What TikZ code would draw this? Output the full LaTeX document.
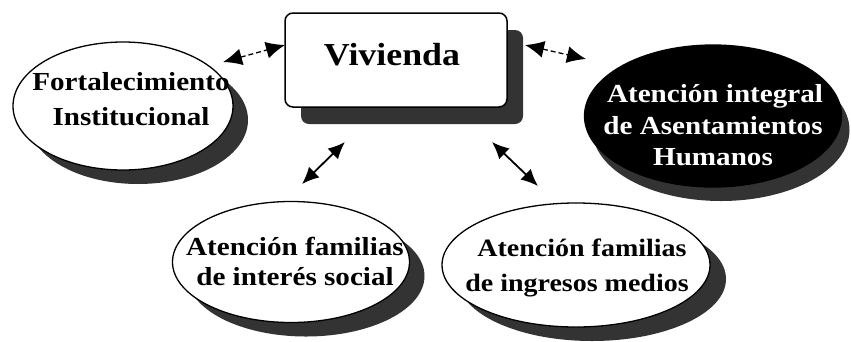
\documentclass[tikz,border=0pt]{standalone}
\usepackage{fontspec}
\setmainfont{Liberation Serif}
\newfontfamily\dfont[FakeStretch=1.12]{Liberation Serif}
\usetikzlibrary{shapes.geometric,shadows,arrows.meta}
\tikzset{
  ellbox/.style={ellipse, draw=black, line width=1.3pt, fill=white, inner sep=0pt},
  shad/.style={drop shadow={shadow xshift=#1, shadow yshift=-14pt, fill=black!80, opacity=1}},
  mainbox/.style={rectangle, rounded corners=8pt, draw=black, line width=1.5pt, fill=white,
    drop shadow={shadow xshift=16pt, shadow yshift=-17pt, fill=black!80, opacity=1}},
  lbl/.style={anchor=base, inner sep=0pt, font=\dfont\bfseries\fontsize{26}{30}\selectfont},
  bigtip/.tip={Latex[length=19pt,width=17pt]},
  smalltip/.tip={Latex[length=17pt,width=15pt]},
  dlink/.style={bigtip-bigtip, line width=1.3pt, dash pattern=on 5pt off 3pt},
  slink/.style={smalltip-smalltip, line width=1.8pt}
}
\begin{document}
\begin{tikzpicture}[x=1pt,y=-1pt]
\useasboundingbox (0,0) rectangle (851,341);
% central box
\node[mainbox, minimum width=222pt, minimum height=94pt] (viv) at (396,60) {};
\node[lbl, font=\dfont\bfseries\fontsize{32}{36}\selectfont] (vivt) at (392,65) {Vivienda};
% ellipses
\node[ellbox, shad=15pt, minimum width=220pt, minimum height=128pt] (fort) at (123,106) {};
\node[lbl] (fort1) at (131,90) {Fortalecimiento};
\node[lbl] (fort2) at (131,125) {Institucional};
\node[ellbox, shad=8pt, fill=black, minimum width=257pt, minimum height=142pt] (aih) at (713,116) {};
\node[lbl, text=white] (aih1) at (715,102) {Atención integral};
\node[lbl, text=white] (aih2) at (713,134) {de Asentamientos};
\node[lbl, text=white] (aih3) at (713,165) {Humanos};
\node[ellbox, shad=15pt, minimum width=237pt, minimum height=121pt] (ais) at (291,262) {};
\node[lbl] (ais1) at (295,255) {Atención familias};
\node[lbl] (ais2) at (295,285) {de interés social};
\node[ellbox, shad=16pt, minimum width=268pt, minimum height=124pt] (aim) at (576,265) {};
\node[lbl, font=\dfont\bfseries\fontsize{25}{30}\selectfont] (aim1) at (582,256) {Atención familias};
\node[lbl, font=\dfont\bfseries\fontsize{25}{30}\selectfont] (aim2) at (577,291) {de ingresos medios};
% arrows
\coordinate (a1) at (223,62);
\coordinate (b1) at (285,45);
\coordinate (a2) at (525,45);
\coordinate (b2) at (586,59);
\coordinate (a3) at (345,142);
\coordinate (b3) at (302,184);
\coordinate (a4) at (492,142);
\coordinate (b4) at (538,186);
\draw[dlink] (a1) -- (b1);
\draw[dlink] (a2) -- (b2);
\draw[slink] (a3) -- (b3);
\draw[slink] (a4) -- (b4);
\end{tikzpicture}
\end{document}
